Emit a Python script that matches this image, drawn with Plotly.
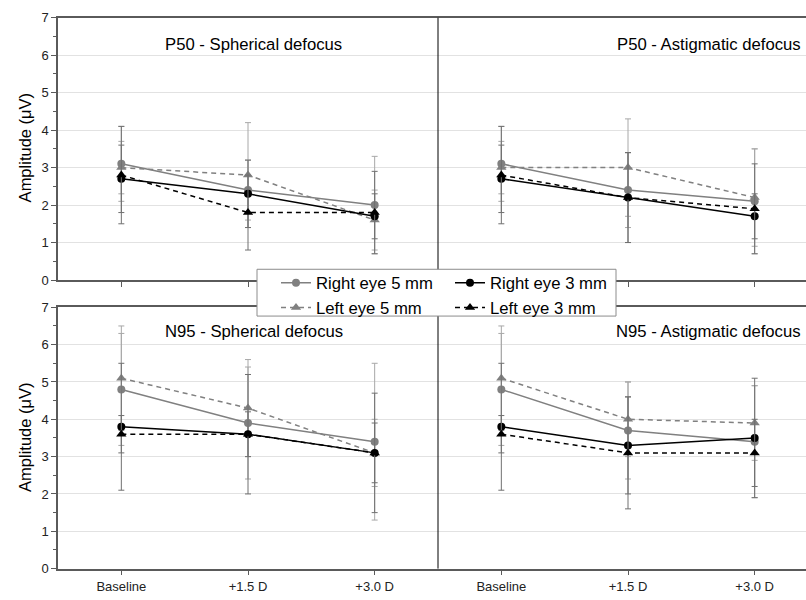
import plotly.graph_objects as go

categories = ["Baseline", "+1.5 D", "+3.0 D"]
y_ticks = [0, 1, 2, 3, 4, 5, 6, 7]

# P50 - Spherical defocus
p50_sph_r5 = [3.1, 2.4, 2.0]
p50_sph_r5_err = [1.0, 0.8, 1.3]
p50_sph_l5 = [3.0, 2.8, 1.6]
p50_sph_l5_err = [0.7, 1.4, 0.8]
p50_sph_r3 = [2.7, 2.3, 1.7]
p50_sph_r3_err = [0.9, 0.9, 0.6]
p50_sph_l3 = [2.8, 1.8, 1.8]
p50_sph_l3_err = [1.3, 1.0, 1.1]

# P50 - Astigmatic defocus
p50_ast_r5 = [3.1, 2.4, 2.1]
p50_ast_r5_err = [1.0, 1.0, 1.4]
p50_ast_l5 = [3.0, 3.0, 2.2]
p50_ast_l5_err = [0.7, 1.3, 1.3]
p50_ast_r3 = [2.7, 2.2, 1.7]
p50_ast_r3_err = [0.9, 1.2, 0.6]
p50_ast_l3 = [2.8, 2.2, 1.9]
p50_ast_l3_err = [1.3, 1.2, 1.2]

# N95 - Spherical defocus
n95_sph_r5 = [4.8, 3.9, 3.4]
n95_sph_r5_err = [1.5, 1.5, 2.1]
n95_sph_l5 = [5.1, 4.3, 3.1]
n95_sph_l5_err = [1.4, 1.3, 0.9]
n95_sph_r3 = [3.8, 3.6, 3.1]
n95_sph_r3_err = [1.7, 1.6, 1.6]
n95_sph_l3 = [3.6, 3.6, 3.1]
n95_sph_l3_err = [0.5, 0.6, 0.8]

# N95 - Astigmatic defocus
n95_ast_r5 = [4.8, 3.7, 3.4]
n95_ast_r5_err = [1.5, 1.3, 1.5]
n95_ast_l5 = [5.1, 4.0, 3.9]
n95_ast_l5_err = [1.4, 1.0, 1.0]
n95_ast_r3 = [3.8, 3.3, 3.5]
n95_ast_r3_err = [1.7, 1.3, 1.6]
n95_ast_l3 = [3.6, 3.1, 3.1]
n95_ast_l3_err = [0.5, 1.5, 0.9]

series_names = ["Right eye 5 mm", "Left eye 5 mm", "Right eye 3 mm", "Left eye 3 mm"]
panel_titles = ["P50 - Spherical defocus", "P50 - Astigmatic defocus",
                "N95 - Spherical defocus", "N95 - Astigmatic defocus"]
y_title = "Amplitude (\u03bcV)"

W, H = 806, 600
FONT = "Liberation Sans, Arial, sans-serif"
GREY = "#808080"
BLACK = "#000000"

styles = [
    dict(color=GREY, dash="solid", symbol="circle", size=8, ecolor="#a8a8a8", legend="legend"),
    dict(color=GREY, dash="5px,4px", symbol="triangle-up", size=9, ecolor="#a8a8a8", legend="legend"),
    dict(color=BLACK, dash="solid", symbol="circle", size=8, ecolor="#707070", legend="legend2"),
    dict(color=BLACK, dash="5px,4px", symbol="triangle-up", size=9, ecolor="#707070", legend="legend2"),
]

panels = [
    ("x", "y", [p50_sph_r5, p50_sph_l5, p50_sph_r3, p50_sph_l3],
     [p50_sph_r5_err, p50_sph_l5_err, p50_sph_r3_err, p50_sph_l3_err]),
    ("x2", "y2", [p50_ast_r5, p50_ast_l5, p50_ast_r3, p50_ast_l3],
     [p50_ast_r5_err, p50_ast_l5_err, p50_ast_r3_err, p50_ast_l3_err]),
    ("x3", "y3", [n95_sph_r5, n95_sph_l5, n95_sph_r3, n95_sph_l3],
     [n95_sph_r5_err, n95_sph_l5_err, n95_sph_r3_err, n95_sph_l3_err]),
    ("x4", "y4", [n95_ast_r5, n95_ast_l5, n95_ast_r3, n95_ast_l3],
     [n95_ast_r5_err, n95_ast_l5_err, n95_ast_r3_err, n95_ast_l3_err]),
]

fig = go.Figure()
for pi, (xa, ya, vals, errs) in enumerate(panels):
    for si in range(4):
        st = styles[si]
        fig.add_trace(go.Scatter(
            x=categories, y=vals[si], xaxis=xa, yaxis=ya,
            mode="lines+markers", name=series_names[si],
            showlegend=(pi == 0), legend=st["legend"],
            line=dict(color=st["color"], width=1.5, dash=st["dash"]),
            marker=dict(color=st["color"], symbol=st["symbol"], size=st["size"]),
            error_y=dict(type="data", array=errs[si], visible=True,
                         color=st["ecolor"], thickness=1, width=3),
        ))

def px_x(p):
    return p / W

def px_y(p):
    return 1 - p / H

left_dom = [px_x(58), px_x(438)]
right_dom = [px_x(438), 1.0]
top_dom = [px_y(280), px_y(11)]
bot_dom = [px_y(576), px_y(308)]

axis_line = "#5a5a5a"
tick_font = dict(family=FONT, size=13, color="#222")

def xaxis(dom, anchor, rng, labels):
    return dict(domain=dom, anchor=anchor, type="category", range=rng,
                showline=True, linecolor=axis_line, linewidth=1.5, mirror=True,
                ticks="outside", ticklen=5, tickcolor=axis_line, tickwidth=1,
                showticklabels=labels, tickfont=tick_font, showgrid=False,
                zeroline=False, fixedrange=True)

def yaxis(dom, anchor, left):
    d = dict(domain=dom, anchor=anchor, range=[0, 7], tickvals=y_ticks,
             showgrid=True, gridcolor="#e2e2e2", gridwidth=1, zeroline=False,
             tickfont=tick_font, fixedrange=True)
    if left:
        d.update(showline=True, linecolor=axis_line, linewidth=1.5,
                 ticks="outside", ticklen=5, tickcolor=axis_line, tickwidth=1,
                 minor=dict(dtick=0.5, ticks="outside", ticklen=3,
                            tickcolor=axis_line, showgrid=False),
                 showticklabels=True)
    else:
        d.update(showline=False, ticks="", showticklabels=False)
    return d

right_range = [-0.5, -0.5 + (806 - 438) / ((438 - 58) / 3.0)]

legend_font = dict(family=FONT, size=16.7, color="#000")

fig.update_layout(
    width=W, height=H,
    margin=dict(l=0, r=0, t=0, b=0),
    paper_bgcolor="white", plot_bgcolor="white",
    font=dict(family=FONT, color="#000"),
    xaxis=xaxis(left_dom, "y", [-0.5, 2.5], False),
    yaxis=yaxis(top_dom, "x", True),
    xaxis2=xaxis(right_dom, "y2", right_range, False),
    yaxis2=yaxis(top_dom, "x2", False),
    xaxis3=xaxis(left_dom, "y3", [-0.5, 2.5], True),
    yaxis3=yaxis(bot_dom, "x3", True),
    xaxis4=xaxis(right_dom, "y4", right_range, True),
    yaxis4=yaxis(bot_dom, "x4", False),
    legend=dict(x=px_x(276), y=px_y(265), xanchor="left", yanchor="top",
                bgcolor="rgba(0,0,0,0)", borderwidth=0, font=legend_font,
                tracegroupgap=0, itemwidth=30),
    legend2=dict(x=px_x(450), y=px_y(265), xanchor="left", yanchor="top",
                 bgcolor="rgba(0,0,0,0)", borderwidth=0, font=legend_font,
                 tracegroupgap=0, itemwidth=30),
    showlegend=True,
)

# divider between left and right panels
fig.add_shape(type="line", xref="paper", yref="paper",
              x0=px_x(438), x1=px_x(438), y0=px_y(576), y1=px_y(11),
              line=dict(color="#000", width=1), layer="above")
# legend box
fig.add_shape(type="rect", xref="paper", yref="paper",
              x0=px_x(257), x1=px_x(616), y0=px_y(317), y1=px_y(269),
              fillcolor="white", line=dict(color="#8c8c8c", width=1), layer="above")

title_pos = [(254, 38, "center"), (803, 38, "right"), (254, 333, "center"), (803, 333, "right")]
for t, (tx, ty, anc) in zip(panel_titles, title_pos):
    fig.add_annotation(text=t, x=px_x(tx), y=px_y(ty), xref="paper", yref="paper",
                       xanchor=anc, yanchor="middle", showarrow=False,
                       font=dict(family=FONT, size=16.7, color="#000"))

for cy in (145, 442):
    fig.add_annotation(text=y_title, x=px_x(25), y=px_y(cy), xref="paper", yref="paper",
                       xanchor="center", yanchor="middle", textangle=-90, showarrow=False,
                       font=dict(family=FONT, size=16.5, color="#000"))

fig.write_html("out.html",
               config={"displayModeBar": False},
               post_script="document.body.style.margin='0';document.body.style.overflow='hidden';")
